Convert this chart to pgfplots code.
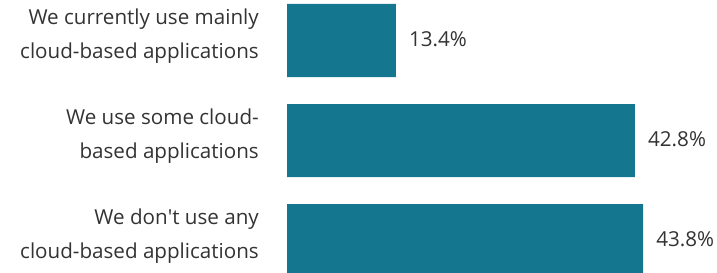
\documentclass[border=0pt]{standalone}
\usepackage{pgfplots}
\pgfplotsset{compat=1.18}
\usepackage{fontspec}
\setmainfont{Open Sans}
\definecolor{barcol}{RGB}{21,119,143}
\definecolor{txt}{RGB}{51,51,51}
\begin{document}
\begin{tikzpicture}
\useasboundingbox (0,0) rectangle (717bp,273bp);
\begin{axis}[
  at={(287bp,0)}, anchor=south west,
  x=8.13bp, y=100bp, y dir=reverse,
  xmin=0, xmax=52.89, ymin=-0.405, ymax=2.325,
  xbar, bar width=73bp,
  axis line style={draw=none},
  xtick=\empty, ytick={0,1,2},
  /pgf/number format/assume math mode=true,
  yticklabels={{We currently use mainly\\cloud-based applications},{We use some cloud-\\based applications},{We don\textquotesingle t use any\\cloud-based applications}},
  major tick length=0pt,
  tick style={draw=none},
  yticklabel style={align=right, inner sep=0pt, font=\fontsize{20.6bp}{34bp}\selectfont, text=txt, xshift=-28bp, yshift=4bp},
  nodes near coords={\pgfmathprintnumber[fixed,precision=1,fixed zerofill,assume math mode=true]{\pgfplotspointmeta}\%},
  nodes near coords style={font=\fontsize{20.6bp}{25bp}\selectfont, text=txt, anchor=west, inner sep=0pt, xshift=13bp, yshift=1bp},
  clip=false,
]
\addplot[fill=barcol, draw=none] coordinates {(13.4,0) (42.8,1) (43.8,2)};
\end{axis}
\end{tikzpicture}
\end{document}
